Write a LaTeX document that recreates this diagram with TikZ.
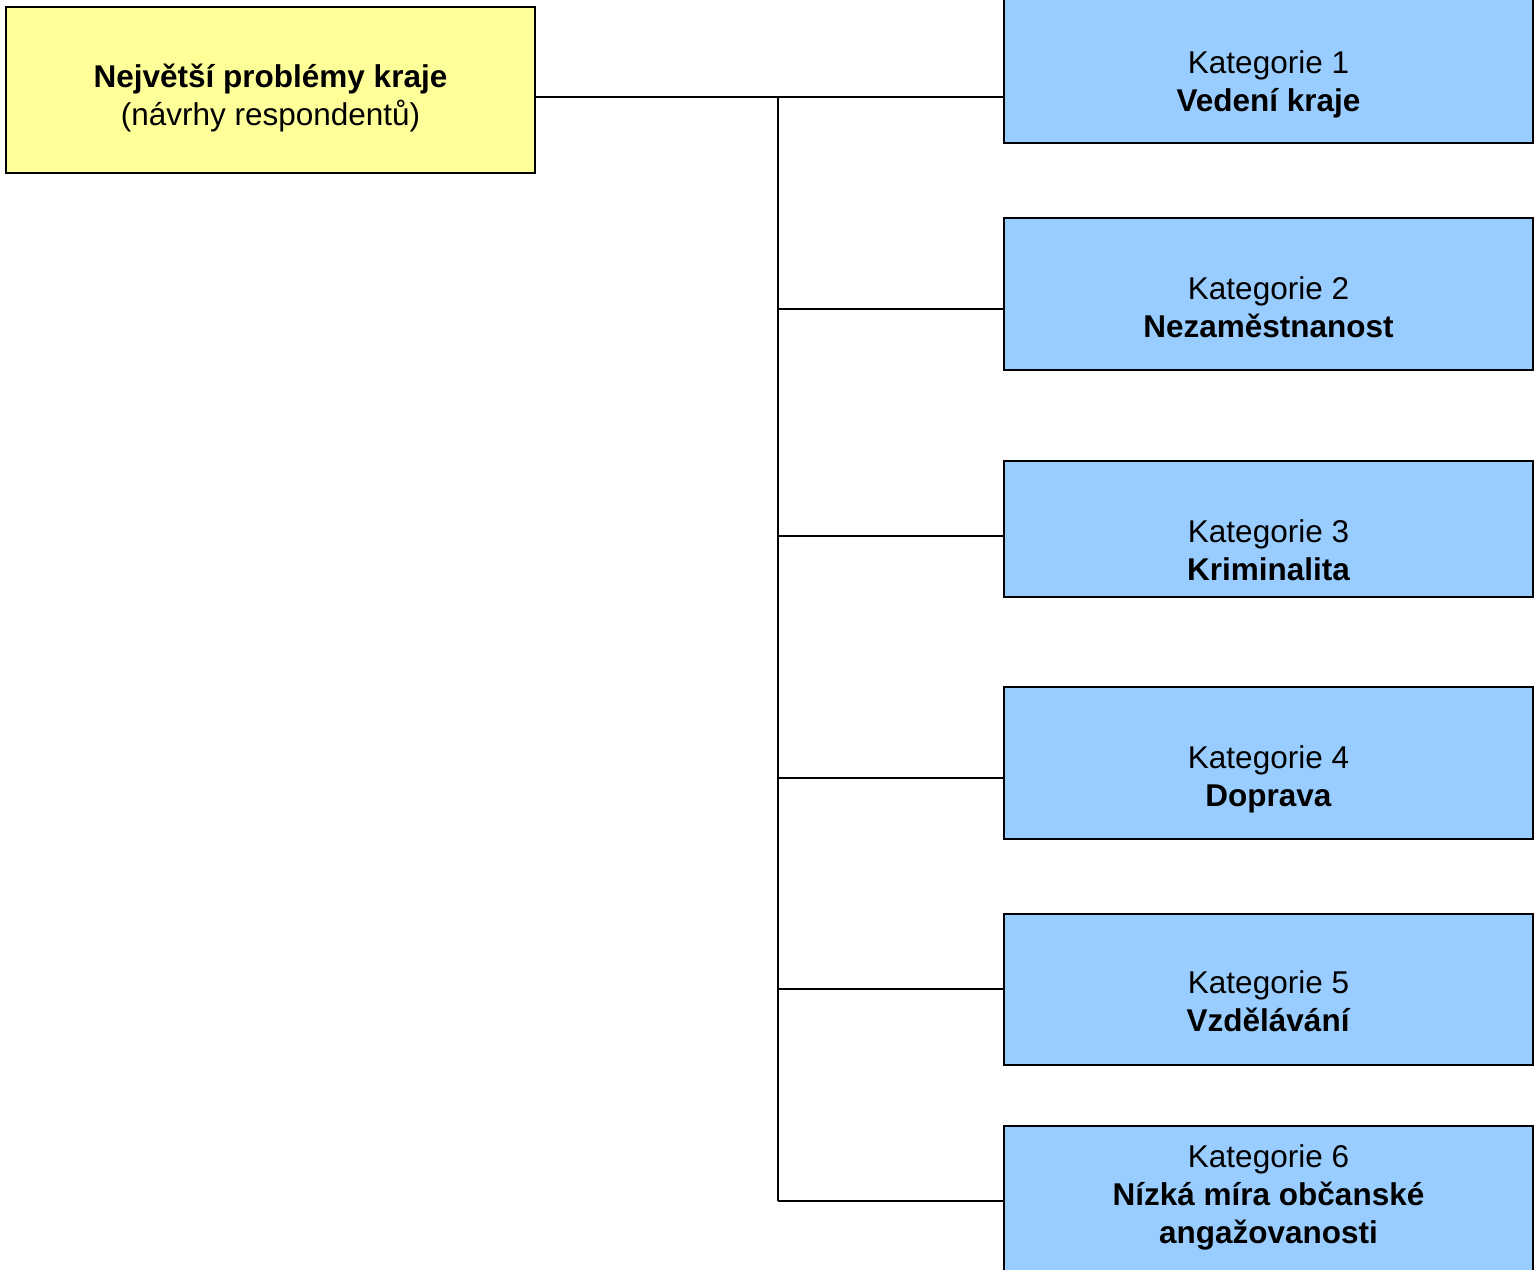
\documentclass[tikz,border=0pt]{standalone}
\usepackage{fontspec}
\setmainfont{Liberation Sans}
\usetikzlibrary{positioning}
\definecolor{rootyellow}{HTML}{FFFF99}
\definecolor{catblue}{HTML}{99CCFF}
\tikzset{
    %Define style for the top box
    rootbox/.style={
      rectangle,
      draw=black, line width=1pt,
      fill=rootyellow,
      minimum width=264.5pt,
      minimum height=83pt,
      inner sep=0pt,
      align=center,
      font=\fontsize{15.75}{19}\selectfont},
    %Define style for category boxes
    catbox/.style={
      rectangle,
      draw=black, line width=1pt,
      fill=catblue,
      minimum width=264.5pt,
      minimum height=76pt,
      inner sep=0pt,
      align=center,
      font=\fontsize{15.75}{19}\selectfont},
    % Define where the last line sits in a box
    textpos/.style={
      text height=#1,
      text depth=0pt},
    % Define line style
    tie/.style={
      line width=0.9pt}
}

\begin{document}
\begin{tikzpicture}[x=0.5pt, y=-0.5pt]
    \useasboundingbox (0,0) rectangle (1534,1269);

    \node[rootbox, textpos=35pt] (root) at (270.5,90)
      {\textbf{Největší problémy kraje}\\(návrhy respondentů)};

    \node[catbox, textpos=44pt] (cat1) at (1268.5,67)
      {Kategorie 1\\\textbf{Vedení kraje}};
    \node[catbox, textpos=43pt, below=36.5pt of cat1] (cat2)
      {Kategorie 2\\\textbf{Nezaměstnanost}};
    \node[catbox, textpos=51pt, below=44.5pt of cat2, minimum height=68pt] (cat3)
      {Kategorie 3\\\textbf{Kriminalita}};
    \node[catbox, textpos=43pt, below=44pt of cat3] (cat4)
      {Kategorie 4\\\textbf{Doprava}};
    \node[catbox, textpos=41.5pt, below=36.5pt of cat4, minimum height=75.5pt] (cat5)
      {Kategorie 5\\\textbf{Vzdělávání}};
    \node[catbox, textpos=41pt, below=29.5pt of cat5] (cat6)
      {Kategorie 6\\\textbf{Nízká míra občanské}\\\textbf{angažovanosti}};

    % junctions on the trunk
    \coordinate (j1) at (778,97);
    \coordinate (j2) at (778,309);
    \coordinate (j3) at (778,536);
    \coordinate (j4) at (778,778);
    \coordinate (j5) at (778,989);
    \coordinate (j6) at (778,1201);

    \draw[tie] (root.east |- j1) -- (cat1.west |- j1);
    \draw[tie] (j1) -- (j6);
    \foreach \i in {2,...,6}
      \draw[tie] (j\i) -- (cat\i.west |- j\i);
\end{tikzpicture}
\end{document}
